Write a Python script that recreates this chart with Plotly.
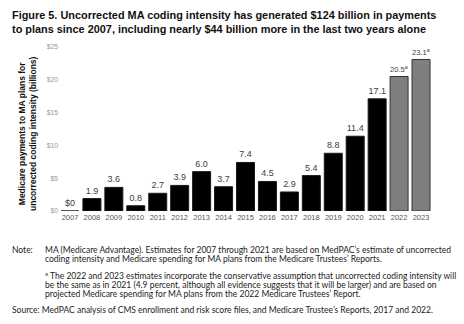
import plotly.graph_objects as go

years = [str(y) for y in range(2007, 2024)]
values = [0, 1.9, 3.6, 0.8, 2.7, 3.9, 6.0, 3.7, 7.4, 4.5, 2.9, 5.4, 8.8, 11.4, 17.1, 20.5, 23.1]
labels = ["$0", "1.9", "3.6", "0.8", "2.7", "3.9", "6.0", "3.7", "7.4", "4.5", "2.9", "5.4",
          "8.8", "11.4", "17.1", "20.5<sup>a</sup>", "23.1<sup>a</sup>"]
projected = [False] * 15 + [True, True]
tick_vals = [0, 5, 10, 15, 20, 25]
tick_text = ["$0", "$5", "$10", "$15", "$20", "$25"]

note_lines = [
    "MA (Medicare Advantage). Estimates for 2007 through 2021 are based on MedPAC’s estimate of uncorrected",
    "coding intensity and Medicare spending for MA plans from the Medicare Trustees’ Reports.",
]
foot_lines = [
    "ª The 2022 and 2023 estimates incorporate the conservative assumption that uncorrected coding intensity will",
    "be the same as in 2021 (4.9 percent, although all evidence suggests that it will be larger) and are based on",
    "projected Medicare spending for MA plans from the 2022 Medicare Trustees’ Report.",
]
source_text = "Source: MedPAC analysis of CMS enrollment and risk score files, and Medicare Trustee’s Reports, 2017 and 2022."

W, H = 464, 324
L, R, T, B = 59, 32, 47, 113
plot_h = H - T - B
plot_w = W - L - R

def py(p):
    return (H - B - p) / plot_h

def px(p):
    return (p - L) / plot_w

colors = ["#7f7f7f" if p else "#000000" for p in projected]
lines = ["#333333" if p else "#1a1a1a" for p in projected]

fig = go.Figure(go.Bar(
    x=years, y=values, text=labels, textposition="outside",
    marker=dict(color=colors, line=dict(color=lines, width=1)),
    textfont=dict(family="Liberation Sans, Arial", size=9, color="#404040"),
    cliponaxis=False,
))

note_font = dict(family="Lato, Open Sans, sans-serif", size=8.5, color="#222222")

annotations = [
    dict(text="<b>Figure 5. Uncorrected MA coding intensity has generated $124 billion in payments<br>"
              "to plans since 2007, including nearly $44 billion more in the last two years alone</b>",
         xref="paper", yref="paper", x=px(10), y=py(7), xanchor="left", yanchor="top",
         align="left", showarrow=False,
         font=dict(family="Liberation Sans, Arial", size=10.9, color="#111111")),
    dict(text="<b>Medicare payments to MA plans for<br>uncorrected coding intensity (billions)</b>",
         xref="paper", yref="paper", x=px(27), y=py(134), xanchor="center", yanchor="middle",
         textangle=-90, showarrow=False,
         font=dict(family="Liberation Sans, Arial", size=8.5, color="#111111")),
    dict(text="Note:", xref="paper", yref="paper", x=px(10), y=py(250), xanchor="left",
         yanchor="middle", showarrow=False, font=note_font),
    dict(text=source_text, xref="paper", yref="paper", x=px(10), y=py(309.5), xanchor="left",
         yanchor="middle", showarrow=False, font=note_font),
]
for i, t in enumerate(note_lines):
    annotations.append(dict(text=t, xref="paper", yref="paper", x=px(43), y=py(250 + 8.8 * i),
                            xanchor="left", yanchor="middle", showarrow=False, font=note_font))
for i, t in enumerate(foot_lines):
    annotations.append(dict(text=t, xref="paper", yref="paper", x=px(43), y=py(276 + 8.8 * i),
                            xanchor="left", yanchor="middle", showarrow=False, font=note_font))

fig.update_layout(
    width=W, height=H,
    margin=dict(l=L, r=R, t=T, b=B, autoexpand=False),
    paper_bgcolor="white", plot_bgcolor="white",
    bargap=0.18, showlegend=False,
    annotations=annotations,
    xaxis=dict(type="category", showgrid=False, showline=False, ticks="",
               tickfont=dict(family="Liberation Sans, Arial", size=7.5, color="#555555")),
    yaxis=dict(range=[0, 25], tickvals=tick_vals, ticktext=tick_text, showgrid=False,
               zeroline=False, showline=False, ticks="",
               tickfont=dict(family="Liberation Sans, Arial", size=6.8, color="#999999")),
)

fig.write_html("out.html")
